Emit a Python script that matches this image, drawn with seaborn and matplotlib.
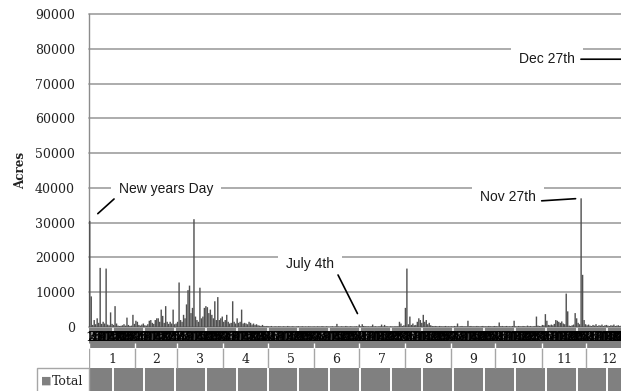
import numpy as np
import pandas as pd
import matplotlib
matplotlib.use("Agg")
import matplotlib.pyplot as plt
import seaborn as sns
from matplotlib.patches import Rectangle

# ---------------- data (daily acres, 2014) ----------------
jan = [30500, 8800, 600, 2000, 800, 2500, 1200, 17000, 900, 1500, 1000, 16800, 700, 500, 4200, 900,
       600, 6000, 1000, 400, 300, 350, 500, 800, 400, 2700, 600, 300, 400, 3500, 900]
feb = [1800, 1500, 600, 400, 700, 1000, 500, 400, 800, 1800, 2000, 1200, 900, 2000, 2500, 2500,
       1500, 5000, 3200, 1200, 6000, 1500, 900, 1500, 1000, 5000, 800, 1000]
mar = [1500, 12800, 2000, 1500, 3500, 2500, 6500, 10600, 11900, 4000, 5500, 31000, 3000, 2000, 1500, 11300,
       2500, 3000, 5500, 6000, 5700, 4000, 5000, 3500, 2500, 7400, 2000, 8600, 2000, 2500, 3000]
apr = [1500, 2000, 3500, 1500, 1000, 1200, 7400, 1500, 1000, 2500, 1200, 1500, 5000, 1000, 1200,
       1000, 800, 1500, 1200, 700, 1000, 600, 800, 500, 400, 300, 600, 300, 200, 300]
may = [200, 150, 300, 100, 150, 200, 100, 250, 150, 100, 200, 150, 100, 300, 150, 100,
       200, 150, 100, 150, 250, 100, 150, 200, 100, 150, 100, 200, 150, 100, 150]
jun = [150, 100, 200, 150, 100, 250, 150, 100, 200, 150, 100, 150, 200, 100, 150,
       900, 150, 100, 200, 150, 100, 300, 150, 100, 200, 150, 100, 150, 200, 100]
jul = [700, 200, 800, 300, 200, 150, 200, 100, 200, 700, 150, 200, 100, 150, 200, 700,
       150, 600, 200, 150, 100, 200, 150, 100, 200, 150, 200, 1500, 1000, 300, 500]
aug = [5500, 16800, 800, 3000, 600, 1000, 500, 600, 1500, 2500, 2000, 1200, 3500, 1500, 2000, 800,
       1200, 500, 300, 200, 300, 200, 150, 300, 200, 150, 200, 300, 150, 200, 150]
sep = [200, 150, 300, 200, 1000, 150, 200, 300, 150, 200, 150, 1800, 200, 300, 150,
       200, 150, 300, 200, 150, 200, 300, 150, 200, 150, 300, 200, 150, 200, 300]
oct_ = [200, 150, 1300, 200, 300, 150, 200, 300, 150, 200, 150, 300, 1800, 200, 150, 300,
        200, 150, 300, 200, 150, 400, 200, 300, 150, 200, 300, 3000, 400, 300, 200]
nov = [600, 500, 3700, 1800, 600, 500, 700, 500, 900, 2000, 1800, 1500, 1200, 1600, 1000,
       800, 9600, 4500, 400, 300, 500, 700, 4000, 2500, 1200, 800, 37000, 15000, 2000, 800]
dec = [500, 700, 400, 300, 600, 400, 800, 300, 500, 400, 700, 300, 500, 600, 400, 300,
       500, 400, 700, 300, 400, 500, 300, 400, 600, 300, 77000, 500, 400, 300, 400]

month_data = [jan, feb, mar, apr, may, jun, jul, aug, sep, oct_, nov, dec]
month_labels = ["1", "2", "3", "4", "5", "6", "7", "8", "9", "10", "11", "12"]
series_name = "Total"
y_ticks = [0, 10000, 20000, 30000, 40000, 50000, 60000, 70000, 80000, 90000]

annotations = [  # (label, month index, day of month)
    ("New years Day", 0, 1),
    ("July 4th", 6, 4),
    ("Nov 27th", 10, 27),
    ("Dec 27th", 11, 27),
]

values = [v for m in month_data for v in m]
month_lengths = [len(m) for m in month_data]
day_labels = [str(d) for n in month_lengths for d in range(1, n + 1)]
n_days = len(values)
df = pd.DataFrame({"day": np.arange(n_days), "Acres": values})

# ---------------- layout ----------------
sns.set_style("white")
plt.rcParams["font.family"] = ["DejaVu Serif"]

W, H = 621, 391
fig = plt.figure(figsize=(W / 100, H / 100), dpi=100)
fx = lambda px: px / W
fy = lambda py: 1 - py / H

px_per_day = 1.489
x0 = 89
x1 = x0 + n_days * px_per_day
y_top, y_base = 14, 327

ax_t = fig.add_axes([fx(x0), 0, fx(x1) - fx(x0), fy(y_base)])
ax = fig.add_axes([fx(x0), fy(y_base), fx(x1) - fx(x0), fy(y_top) - fy(y_base)])

bar_color = "#505050"
cell_gray = "#808080"
grid_gray = "#a6a6a6"

sns.barplot(data=df, x="day", y="Acres", color=bar_color, saturation=1,
            width=0.95, errorbar=None, linewidth=0, ax=ax, zorder=3)
for p in ax.patches:
    p.set_snap(False)

ax.set_xlim(-0.5, n_days - 0.5)
ax.set_ylim(0, 90000)
ax.set_yticks(y_ticks)
ax.set_yticklabels([str(t) for t in y_ticks], fontsize=9, color="#222222")
ax.set_xticks(np.arange(n_days))
ax.set_xticklabels(day_labels, fontsize=9.5, color="black")
ax.tick_params(axis="x", length=0, pad=3.2)
ax.tick_params(axis="y", length=0, pad=10)
ax.set_xlabel("")
ax.set_ylabel("Acres", fontsize=8.6, fontweight="bold", labelpad=5.5, color="#222222")
for s in ["top", "right", "bottom"]:
    ax.spines[s].set_visible(False)
ax.spines["left"].set_color("#8c8c8c")
ax.spines["left"].set_linewidth(1)
ax.spines["left"].set_zorder(1)
ax.set_axisbelow(True)
ax.yaxis.grid(True, color=grid_gray, linewidth=1.3)
ax.xaxis.grid(False)
for gl in ax.get_ygridlines():
    gl.set_clip_on(False)

# annotations
def frac(px, py):
    return ((px - x0) / (x1 - x0), (y_base - py) / (y_base - y_top))

starts = np.cumsum([0] + month_lengths)
text_pos = {"New years Day": (166, 189), "July 4th": (310, 264),
            "Nov 27th": (508, 197), "Dec 27th": (547, 59)}
line_off = {"New years Day": ((17.5, 15.8), 7.8), "July 4th": ((-18.5, 36.7), 10),
            "Nov 27th": ((-28.4, -1.8), 4), "Dec 27th": ((-32.3, 0), 2.7)}
for label, mi, dom in annotations:
    idx = starts[mi] + dom - 1
    tx, ty = frac(*text_pos[label])
    ax.text(tx, ty, label, transform=ax.transAxes, ha="center", va="center",
            fontsize=10, family=["Liberation Sans", "DejaVu Sans"], color="#1a1a1a", zorder=5,
            bbox=dict(boxstyle="square,pad=0.55", fc="white", ec="none"))
    off, shr = line_off[label]
    ax.annotate("", xy=(idx, values[idx]), xytext=off, textcoords="offset points",
                arrowprops=dict(arrowstyle="-", color="black", lw=1.2, shrinkA=0, shrinkB=shr),
                zorder=6)

# ---------------- data table ----------------
ax_t.set_xlim(-0.5, n_days - 0.5)
ax_t.set_ylim(64, 0)
ax_t.axis("off")
ax_t.axhspan(0, 21, color=cell_gray, lw=0)
ax_t.axhspan(41, 64, color=cell_gray, lw=0)
bounds = starts - 0.5
ax_t.vlines(bounds, 21, 41, color=grid_gray, lw=1)
ax_t.vlines(bounds, 16, 21, color="white", lw=1)
gap_pos = [((113 + k * 30.9) - x0) / px_per_day - 0.5 for k in range(17)]
ax_t.vlines(gap_pos, 41, 64, color="white", lw=1.4)
ax_t.vlines(gap_pos, 0, 4, color="white", lw=1.2)
for i, lab in enumerate(month_labels):
    ax_t.text((bounds[i] + bounds[i + 1]) / 2, 32.5, lab, ha="center", va="center",
              fontsize=9, color="#222222")

fig.add_artist(Rectangle((fx(37), fy(393)), fx(89) - fx(37), (393 - 368) / H,
                         transform=fig.transFigure, fill=False, ec=grid_gray, lw=1))
fig.text(fx(41), fy(381), "■", fontsize=8, family=["DejaVu Sans"], color=cell_gray,
         va="center", ha="left")
fig.text(fx(52), fy(381.5), series_name, fontsize=9, color="#222222", va="center", ha="left")

fig.savefig("out.png", dpi=100)
